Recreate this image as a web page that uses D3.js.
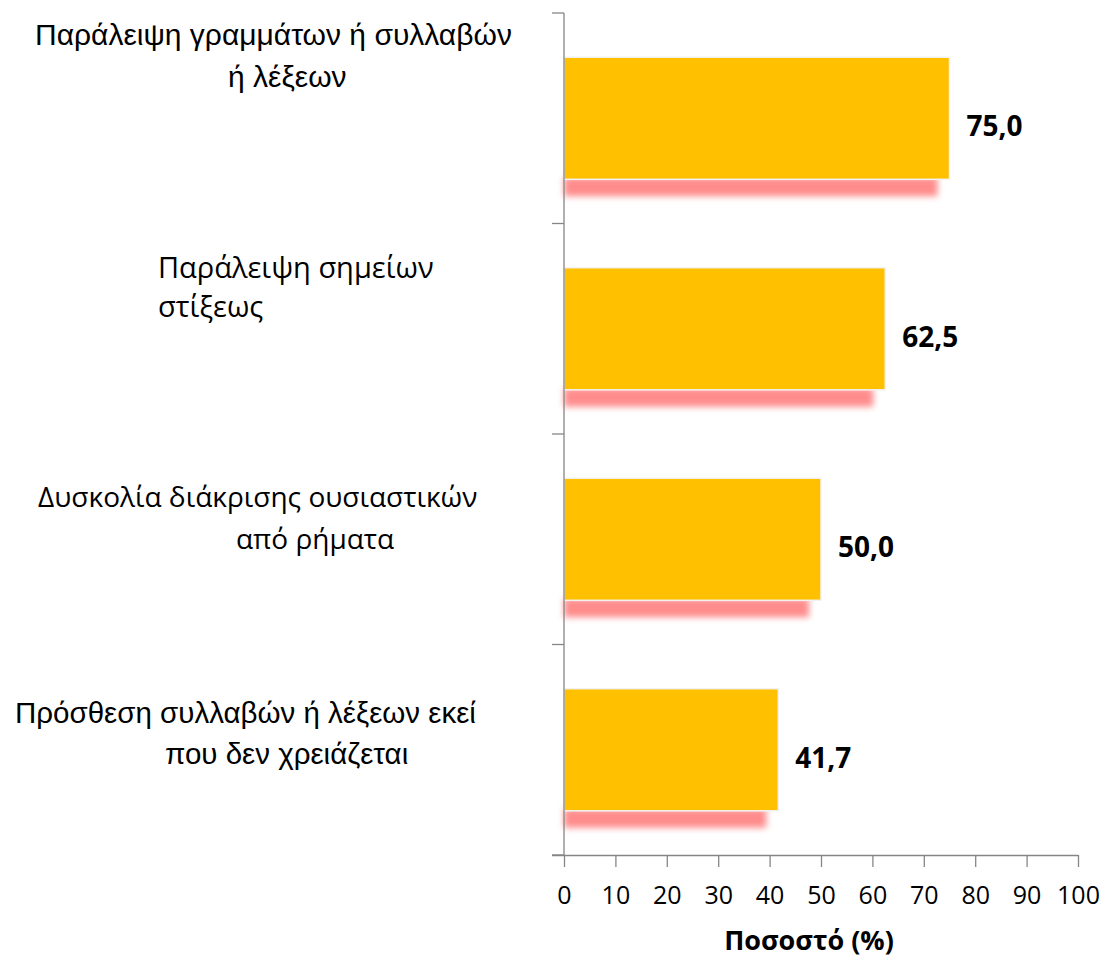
<!DOCTYPE html>
<html>
<head>
<meta charset="utf-8">
<script src="https://cdn.jsdelivr.net/npm/d3@7"></script>
<style>
  html, body { margin: 0; padding: 0; background: #ffffff; }
  svg { display: block; }
</style>
</head>
<body>
<script>
// ---------- DATA ----------
const categories = [
  ["Παράλειψη γραμμάτων ή συλλαβών", "ή λέξεων"],
  ["Παράλειψη σημείων", "στίξεως"],
  ["Δυσκολία διάκρισης ουσιαστικών", "από ρήματα"],
  ["Πρόσθεση συλλαβών ή λέξεων εκεί", "που δεν χρειάζεται"]
];
const values = [75.0, 62.5, 50.0, 41.7];
const valueLabels = ["75,0", "62,5", "50,0", "41,7"];
const xTicks = [0, 10, 20, 30, 40, 50, 60, 70, 80, 90, 100];
const xTitle = "Ποσοστό (%)";

// ---------- LAYOUT / STYLE ----------
const W = 1108, H = 960;
const plot = { left: 564, right: 1078, top: 13, bottom: 855 };
const labelLayout = [
  { font: "Liberation Sans", size: 30, lines: [{ x: 35, y: 45 }, { x: 228, y: 87 }] },
  { font: "Open Sans", size: 29, lines: [{ x: 158, y: 278 }, { x: 158, y: 317 }] },
  { font: "Open Sans", size: 28, lines: [{ x: 38, y: 507 }, { x: 236, y: 549 }] },
  { font: "Liberation Sans", size: 29.5, lines: [{ x: 15, y: 723 }, { x: 165, y: 764 }] }
];

const svg = d3.select("body").append("svg").attr("width", W).attr("height", H);

const defs = svg.append("defs");
defs.append("filter").attr("id", "blur")
  .attr("x", "-10%").attr("y", "-100%").attr("width", "120%").attr("height", "300%")
  .append("feGaussianBlur").attr("stdDeviation", 3.2);

const ids = d3.range(categories.length);
const x = d3.scaleLinear().domain([0, 100]).range([plot.left, plot.right]);
const y = d3.scaleBand().domain(ids).range([plot.top, plot.bottom]).paddingInner(0.42).paddingOuter(0.21);

// shadows
svg.append("g").selectAll("rect").data(ids).join("rect")
  .attr("x", x(0))
  .attr("y", i => y(i) + y.bandwidth() - 2)
  .attr("width", i => x(values[i]) - x(0) - 12)
  .attr("height", 19)
  .attr("fill", "#ff8c8c")
  .attr("filter", "url(#blur)");

// bars
svg.append("g").selectAll("rect").data(ids).join("rect")
  .attr("x", x(0))
  .attr("y", i => y(i))
  .attr("width", i => x(values[i]) - x(0))
  .attr("height", y.bandwidth())
  .attr("fill", "#ffc000")
  .attr("stroke", "#f2f2f2")
  .attr("stroke-width", 1.5);

// value labels
svg.append("g").selectAll("text").data(ids).join("text")
  .attr("x", i => x(values[i]) + 17)
  .attr("y", i => y(i) + y.bandwidth() / 2 + 18)
  .attr("font-family", "Open Sans")
  .attr("font-weight", "bold")
  .attr("font-size", 28)
  .attr("fill", "#000")
  .text(i => valueLabels[i]);

// x axis
const xAxis = d3.axisBottom(x).tickValues(xTicks).tickSize(12).tickPadding(19).tickFormat(d3.format("d"));
const gx = svg.append("g").attr("transform", `translate(0,${plot.bottom})`).call(xAxis);
gx.select(".domain").attr("stroke", "#868686").attr("stroke-width", 1.3)
  .attr("d", `M${x(0) - 12},0.5H${x(100)}`);
gx.selectAll(".tick line").attr("stroke", "#868686").attr("stroke-width", 1.3);
gx.selectAll(".tick text").attr("font-family", "Open Sans").attr("font-size", 25).attr("fill", "#000");

// y axis (category boundaries)
const yAxisG = svg.append("g");
yAxisG.append("line").attr("x1", x(0)).attr("x2", x(0)).attr("y1", plot.top).attr("y2", plot.bottom)
  .attr("stroke", "#868686").attr("stroke-width", 1.3);
const bounds = ids.map(i => y(i) - y.step() * y.paddingInner() / 2).concat([plot.bottom]);
yAxisG.selectAll("line.tk").data(bounds).join("line").attr("class", "tk")
  .attr("x1", x(0) - 12).attr("x2", x(0)).attr("y1", d => d).attr("y2", d => d)
  .attr("stroke", "#868686").attr("stroke-width", 1.3);

// category labels
const lg = svg.append("g");
ids.forEach(i => {
  const L = labelLayout[i];
  categories[i].forEach((line, j) => {
    lg.append("text")
      .attr("x", L.lines[j].x)
      .attr("y", L.lines[j].y)
      .attr("font-family", L.font)
      .attr("font-size", L.size)
      .attr("fill", "#000")
      .text(line);
  });
});

// axis title
svg.append("text")
  .attr("x", 809).attr("y", 950)
  .attr("text-anchor", "middle")
  .attr("font-family", "Open Sans").attr("font-weight", "bold").attr("font-size", 27)
  .attr("fill", "#000")
  .text(xTitle);
</script>
</body>
</html>
